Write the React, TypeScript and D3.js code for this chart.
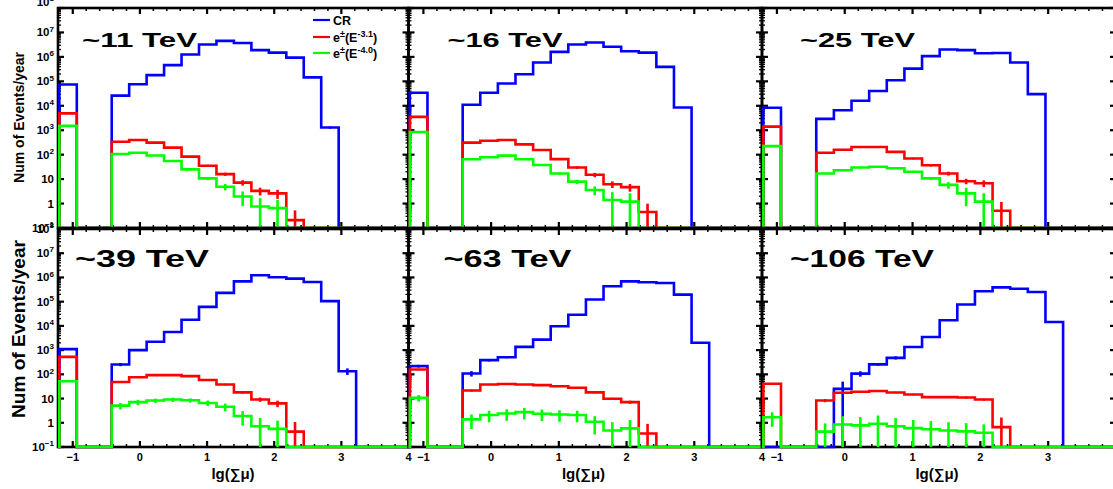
import React from "react";
import * as d3 from "d3";

// ---- data ----
const binEdges = [-1.2, -0.94, -0.68, -0.42, -0.16, 0.1, 0.36, 0.62, 0.88, 1.14, 1.4, 1.66, 1.92, 2.18, 2.44, 2.7, 2.96, 3.22];
const xTicks = [-1, 0, 1, 2, 3, 4];
const xTickLabels = ["\u22121", "0", "1", "2", "3", "4"];
const yExponents = [-1, 0, 1, 2, 3, 4, 5, 6, 7, 8];
const panelTitles = ["~11 TeV", "~16 TeV", "~25 TeV", "~39 TeV", "~63 TeV", "~106 TeV"];
const seriesNames = ["CR", "e\u00b1(E-3.1)", "e\u00b1(E-4.0)"];

const cr11 = [7.4e4, 0, 0, 2.6e4, 7.6e4, 1.8e5, 4.6e5, 1.26e6, 3.2e6, 4.5e6, 3.7e6, 1.9e6, 1.5e6, 9.3e5, 1.45e5, 1.3e3, 0];
const red11 = [4.9e3, 0, 0, 340, 400, 310, 195, 83, 35, 16, 7.2, 3.3, 2.6, 0.21, 0, 0, 0];
const green11 = [1.5e3, 0, 0, 107, 120, 93, 55, 25, 10.7, 4.9, 1.95, 0.76, 0.65, 0, 0, 0, 0];

const cr16 = [3.4e4, 0, 0, 1.1e4, 3.4e4, 8.1e4, 1.95e5, 5.9e5, 1.6e6, 3.2e6, 3.9e6, 2.6e6, 1.7e6, 1.5e6, 3.9e5, 8.5e3, 0];
const red16 = [3.5e3, 0, 0, 310, 370, 400, 263, 155, 66, 30, 15, 6.2, 4.7, 0.45, 0, 0, 0];
const green16 = [850, 0, 0, 65, 78, 91, 65, 38, 17, 7.9, 3.6, 1.4, 1.2, 0, 0, 0, 0];

const cr25 = [8.3e3, 0, 0, 2.9e3, 6.6e3, 1.6e4, 4.0e4, 1.1e5, 3.3e5, 1.07e6, 2.0e6, 1.9e6, 1.4e6, 1.45e6, 5.9e5, 3.0e4, 0];
const red25 = [1.4e3, 0, 0, 120, 160, 205, 205, 130, 70, 37, 17, 8.2, 6.8, 0.51, 0, 0, 0];
const green25 = [224, 0, 0, 17, 23, 30, 32, 28, 20, 10.7, 5.8, 2.6, 1.2, 0, 0, 0, 0];

const cr39 = [1.1e3, 0, 0, 255, 1.0e3, 2.2e3, 5.6e3, 1.8e4, 6.1e4, 2.3e5, 6.9e5, 1.23e6, 1.02e6, 8.9e5, 6.5e5, 1.05e5, 135];
const red39 = [525, 0, 0, 48, 76, 93, 93, 84, 58, 38, 18, 9.2, 6.3, 0.43, 0, 0, 0];
const green39 = [52, 0, 0, 5.1, 7.1, 8.3, 9.1, 8.5, 6.6, 4.6, 1.9, 0.72, 0.56, 0, 0, 0, 0];

const cr63 = [218, 0, 0, 108, 385, 510, 1.36e3, 2.7e3, 9.7e3, 2.9e4, 1.23e5, 4.3e5, 6.9e5, 6.3e5, 5.9e5, 1.96e5, 2.0e3];
const red63 = [158, 0, 0, 21.5, 38, 40, 38, 36, 32, 28, 18, 9.8, 7.1, 0.36, 0, 0, 0];
const green63 = [10.7, 0, 0, 1.38, 2.1, 2.4, 2.75, 2.35, 2.2, 2.1, 1.1, 0.48, 0.59, 0, 0, 0, 0];

const cr106 = [0, 0, 0, 0, 25, 107, 257, 480, 1.35e3, 3.5e3, 1.7e4, 7.6e4, 2.7e5, 3.9e5, 3.4e5, 2.5e5, 1.45e4];
const red106 = [41, 0, 0, 8.3, 17.4, 19, 20.4, 17.8, 14.8, 11.5, 11.5, 11, 9.1, 0.66, 0, 0, 0];
const green106 = [1.7, 0, 0, 0.43, 0.85, 0.78, 0.91, 0.72, 0.6, 0.54, 0.48, 0.44, 0.39, 0, 0, 0, 0];

// relative errors (sigma / value)
const errCr11 = [0.02, 0, 0, 0.03, 0.02, 0.02, 0.02, 0.02, 0.02, 0.02, 0.02, 0.02, 0.02, 0.02, 0.02, 0.1, 0];
const errRed11 = [0.03, 0, 0, 0.04, 0.04, 0.04, 0.05, 0.06, 0.1, 0.15, 0.25, 0.35, 0.4, 1.5, 0, 0, 0];
const errGreen11 = [0.03, 0, 0, 0.04, 0.04, 0.05, 0.06, 0.1, 0.15, 0.3, 0.6, 1.2, 1.2, 0, 0, 0, 0];
const errCr16 = [0.02, 0, 0, 0.03, 0.02, 0.02, 0.02, 0.02, 0.02, 0.02, 0.02, 0.02, 0.02, 0.02, 0.02, 0.05, 0];
const errRed16 = [0.03, 0, 0, 0.03, 0.03, 0.03, 0.04, 0.05, 0.08, 0.12, 0.2, 0.3, 0.35, 1.2, 0, 0, 0];
const errGreen16 = [0.03, 0, 0, 0.03, 0.03, 0.04, 0.05, 0.07, 0.12, 0.2, 0.4, 1.1, 1.2, 0, 0, 0, 0];
const errCr25 = [0.03, 0, 0, 0.04, 0.03, 0.02, 0.02, 0.02, 0.02, 0.02, 0.02, 0.02, 0.02, 0.02, 0.02, 0.03, 0];
const errRed25 = [0.03, 0, 0, 0.04, 0.04, 0.04, 0.04, 0.05, 0.08, 0.12, 0.18, 0.25, 0.3, 1.3, 0, 0, 0];
const errGreen25 = [0.04, 0, 0, 0.06, 0.05, 0.05, 0.05, 0.06, 0.1, 0.15, 0.3, 0.7, 1.2, 0, 0, 0, 0];
const errCr39 = [0.06, 0, 0, 0.15, 0.08, 0.05, 0.04, 0.03, 0.02, 0.02, 0.02, 0.02, 0.02, 0.02, 0.02, 0.02, 0.3];
const errRed39 = [0.04, 0, 0, 0.08, 0.05, 0.05, 0.05, 0.05, 0.06, 0.08, 0.12, 0.2, 0.3, 1.5, 0, 0, 0];
const errGreen39 = [0.05, 0, 0, 0.3, 0.25, 0.2, 0.2, 0.2, 0.25, 0.35, 0.6, 1.2, 1.2, 0, 0, 0, 0];
const errCr63 = [0.12, 0, 0, 0.25, 0.12, 0.1, 0.06, 0.05, 0.03, 0.02, 0.02, 0.02, 0.02, 0.02, 0.02, 0.02, 0.05];
const errRed63 = [0.06, 0, 0, 0.1, 0.06, 0.05, 0.05, 0.05, 0.05, 0.06, 0.08, 0.1, 0.15, 1.5, 0, 0, 0];
const errGreen63 = [0.3, 0, 0, 0.6, 0.5, 0.5, 0.5, 0.5, 0.5, 0.5, 0.7, 1.2, 1.2, 0, 0, 0, 0];
const errCr106 = [0, 0, 0, 0, 1.0, 0.25, 0.12, 0.15, 0.06, 0.04, 0.03, 0.02, 0.02, 0.02, 0.02, 0.02, 0.03];
const errRed106 = [0.06, 0, 0, 0.15, 0.1, 0.08, 0.08, 0.08, 0.08, 0.08, 0.08, 0.1, 0.1, 1.5, 0, 0, 0];
const errGreen106 = [0.6, 0, 0, 1.2, 1.2, 1.2, 1.2, 1.2, 1.2, 1.2, 1.2, 1.2, 1.2, 0, 0, 0, 0];

const panelValues = [
  [cr11, red11, green11], [cr16, red16, green16], [cr25, red25, green25],
  [cr39, red39, green39], [cr63, red63, green63], [cr106, red106, green106],
];
const panelErrors = [
  [errCr11, errRed11, errGreen11], [errCr16, errRed16, errGreen16], [errCr25, errRed25, errGreen25],
  [errCr39, errRed39, errGreen39], [errCr63, errRed63, errGreen63], [errCr106, errRed106, errGreen106],
];

// ---- layout ----
const W = 1113, H = 489;
const colLefts = [58, 408.5, 762];
const colWidths = [350.5, 353.5, 354];
const rowTops = [8, 229];
const rowBottoms = [228, 447];
const X_MIN = -1.22, X_MAX = 4.0, FLOOR = 0.1;
const colors = ["#0000ff", "#ff0000", "#00ff00"];
const titleOffsets = [24, 39, 38, 17, 35, 28];
const titleLens = [115, 115, 115, 134, 128, 144];
const FONT = "'Liberation Sans', Arial, Helvetica, sans-serif";

function Sup({ base, exp, size }: { base: string; exp: string; size: number }) {
  return (
    <>
      <tspan>{base}</tspan>
      <tspan fontSize={size * 0.7} dy={-size * 0.42}>{exp}</tspan>
    </>
  );
}

function Panel({ idx }: { idx: number }) {
  const row = Math.floor(idx / 3), col = idx % 3;
  const left = colLefts[col], right = left + colWidths[col];
  const top = rowTops[row], bottom = rowBottoms[row];
  const x = d3.scaleLinear().domain([X_MIN, X_MAX]).range([left, right]);
  const y = d3.scaleLog().domain([FLOOR, 1e8]).range([bottom, top]);
  const line = d3.line<[number, number]>().x((d) => x(d[0])).y((d) => y(d[1])).curve(d3.curveStepAfter);

  const majorY = yExponents.map((e) => Math.pow(10, e));
  const minorY: number[] = [];
  for (let e = -1; e < 8; e++) for (let m = 2; m <= 9; m++) minorY.push(m * Math.pow(10, e));
  const minorX = d3.range(-6, 21).map((i) => i * 0.2).filter((v) => v > X_MIN && v < X_MAX && Math.abs(v - Math.round(v)) > 1e-6);

  const ticks: JSX.Element[] = [];
  majorY.forEach((v, i) => {
    const yy = y(v);
    ticks.push(<line key={"yl" + i} x1={left} x2={left + 6} y1={yy} y2={yy} />);
    ticks.push(<line key={"yr" + i} x1={right} x2={right - 6} y1={yy} y2={yy} />);
  });
  minorY.forEach((v, i) => {
    const yy = y(v);
    ticks.push(<line key={"ml" + i} x1={left} x2={left + 3} y1={yy} y2={yy} strokeWidth={1.3} />);
    ticks.push(<line key={"mr" + i} x1={right} x2={right - 3} y1={yy} y2={yy} strokeWidth={1.3} />);
  });
  xTicks.forEach((v, i) => {
    const xx = x(v);
    ticks.push(<line key={"xb" + i} x1={xx} x2={xx} y1={bottom} y2={bottom - 6} />);
    ticks.push(<line key={"xt" + i} x1={xx} x2={xx} y1={top} y2={top + 6} />);
  });
  minorX.forEach((v, i) => {
    const xx = x(v);
    ticks.push(<line key={"mb" + i} x1={xx} x2={xx} y1={bottom} y2={bottom - 3} strokeWidth={1.5} />);
    ticks.push(<line key={"mt" + i} x1={xx} x2={xx} y1={top} y2={top + 3} strokeWidth={1.5} />);
  });

  const vals = panelValues[idx];
  const errs = panelErrors[idx];

  return (
    <g>
      <rect x={left} y={top} width={right - left} height={bottom - top} fill="none" stroke="#000" strokeWidth={2.6} />
      <g stroke="#000" strokeWidth={2.2}>{ticks}</g>
      {col === 0 &&
        majorY.map((v, i) => {
          const e = yExponents[i];
          const yy = y(v) + 4 - (row === 0 && e === 8 ? 6 : 0);
          return (
            <text key={"yt" + i} x={54} y={yy} textAnchor="end" fontSize={11.5} fontWeight="bold" fontFamily={FONT}>
              {e === 0 ? "1" : e === 1 ? "10" : <Sup base="10" exp={e < 0 ? "\u2212" + -e : String(e)} size={11.5} />}
            </text>
          );
        })}
      {row === 1 &&
        xTicks.map((v, i) =>
          x(v) > W - 4 ? null : (
            <text key={"xl" + i} x={x(v)} y={461} textAnchor="middle" fontSize={11} fontWeight="bold" fontFamily={FONT}>
              {xTickLabels[i]}
            </text>
          )
        )}
      {row === 1 && (
        <text x={left + 175} y={479} textAnchor="middle" fontSize={15} fontWeight="bold" fontFamily={FONT}>
          lg(∑μ)
        </text>
      )}
      {vals.map((s, si) => {
        const pts: [number, number][] = [[X_MIN, FLOOR]];
        s.forEach((v, i) => pts.push([binEdges[i], Math.max(v, FLOOR)]));
        pts.push([binEdges[binEdges.length - 1], FLOOR]);
        pts.push([X_MAX, FLOOR]);
        return (
          <g key={"s" + si}>
            <path d={line(pts) || ""} fill="none" stroke={colors[si]} strokeWidth={2.6} />
            {s.map((v, i) => {
              const r = errs[si][i];
              if (!(v > FLOOR) || !r) return null;
              const cx = x((binEdges[i] + binEdges[i + 1]) / 2);
              const hi = v * (1 + r);
              const lo = Math.max(v * (1 - r), FLOOR);
              return <line key={"e" + i} x1={cx} x2={cx} y1={y(hi)} y2={y(lo)} stroke={colors[si]} strokeWidth={2.6} />;
            })}
          </g>
        );
      })}
      {row === 0 && <line x1={left} x2={right} y1={bottom} y2={bottom} stroke="#000" strokeWidth={2.6} />}
      <text x={left + titleOffsets[idx]} y={row === 0 ? 47 : 267} fontSize={row === 0 ? 21 : 24} fontWeight="bold"
        fontFamily={FONT} textLength={titleLens[idx]} lengthAdjust="spacingAndGlyphs">
        {panelTitles[idx]}
      </text>
    </g>
  );
}

function Legend() {
  const rows = [20, 37, 53];
  return (
    <g fontFamily={FONT} fontWeight="bold" fontSize={12.5}>
      {seriesNames.map((n, i) => {
        const parts = n.split("(");
        return (
          <g key={i}>
            <line x1={313} x2={330} y1={rows[i]} y2={rows[i]} stroke={colors[i]} strokeWidth={2.2} />
            <text x={333} y={rows[i] + 4.5}>
              {i === 0 ? (
                n
              ) : (
                <>
                  <tspan>e</tspan>
                  <tspan fontSize={9} dy={-4.5}>±</tspan>
                  <tspan dy={4.5}>(E</tspan>
                  <tspan fontSize={9} dy={-5}>{"-" + parts[1].replace("E-", "").replace(")", "")}</tspan>
                  <tspan dy={5}>)</tspan>
                </>
              )}
            </text>
          </g>
        );
      })}
    </g>
  );
}

export default function App() {
  return (
    <svg width={W} height={H} viewBox={`0 0 ${W} ${H}`} style={{ position: "absolute", left: 0, top: 0, background: "#fff" }}>
      <rect x={0} y={0} width={W} height={H} fill="#fff" />
      {[0, 1, 2, 3, 4, 5].map((i) => (
        <Panel key={i} idx={i} />
      ))}
      <Legend />
      <text transform="translate(24,117.5) rotate(-90)" textAnchor="middle" fontSize={15} fontWeight="bold"
        fontFamily={FONT} textLength={131} lengthAdjust="spacingAndGlyphs">
        Num of Events/year
      </text>
      <text transform="translate(25,329) rotate(-90)" textAnchor="middle" fontSize={19} fontWeight="bold"
        fontFamily={FONT} textLength={178} lengthAdjust="spacingAndGlyphs">
        Num of Events/year
      </text>
    </svg>
  );
}
